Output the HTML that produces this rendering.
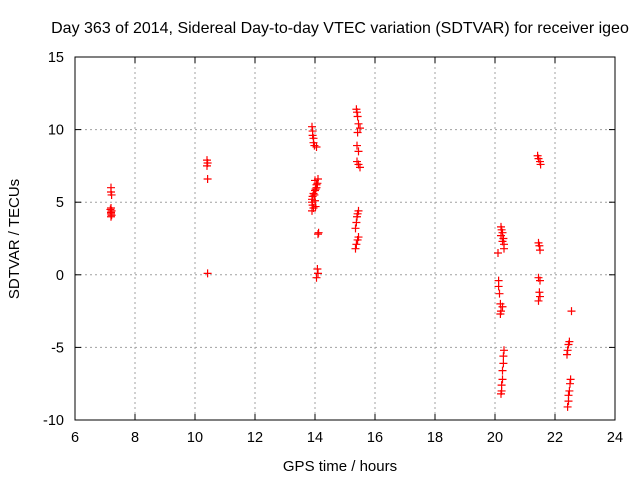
<!DOCTYPE html>
<html><head><meta charset="utf-8"><style>
body{margin:0;background:#fff}
svg{display:block;font-family:"Liberation Sans",sans-serif}
</style></head><body>
<svg id="c" width="640" height="480">
<text x="340" y="33" text-anchor="middle" font-size="16">Day 363 of 2014, Sidereal Day-to-day VTEC variation (SDTVAR) for receiver igeo</text>
<text x="340" y="471" text-anchor="middle" font-size="15">GPS time / hours</text>
<text transform="translate(19,239) rotate(-90)" text-anchor="middle" font-size="15">SDTVAR / TECUs</text>
<g id="grid"></g>
<g id="ticks"></g>
<g id="pts"></g>
<rect x="75" y="57" width="540" height="363" fill="none" stroke="#000"/>
</svg>
<script>
const xTicks=[6,8,10,12,14,16,18,20,22,24];
const yTicks=[-10,-5,0,5,10,15];
const hours=[7.2,7.2,7.22,7.2,7.18,7.22,7.2,7.2,7.22,7.2,
10.4,10.42,10.4,10.42,10.42,
13.9,13.92,13.92,13.95,13.95,13.98,14.05,14.1,14.08,14.05,14.0,13.95,13.92,13.9,13.9,13.92,13.95,13.9,14.0,14.05,14.02,13.98,14.0,14.02,14.12,14.1,14.08,14.1,14.05,
15.38,15.4,15.42,15.45,15.5,15.42,15.4,15.45,15.4,15.45,15.5,15.45,15.42,15.4,15.38,15.35,15.45,15.42,15.38,15.35,
20.2,20.22,20.25,20.2,20.28,20.25,20.3,20.3,20.1,20.12,20.12,20.15,20.18,20.25,20.2,20.18,20.3,20.28,20.28,20.25,20.25,20.22,20.22,20.2,
21.42,21.45,21.5,21.52,21.45,21.48,21.5,21.45,21.5,21.48,21.5,21.45,
22.55,22.48,22.45,22.42,22.4,22.52,22.5,22.48,22.45,22.45,22.42];
const values=[6.0,5.7,5.5,4.6,4.5,4.4,4.3,4.2,4.1,4.0,
7.9,7.7,7.5,6.6,0.1,
10.2,9.9,9.6,9.4,9.1,8.9,8.8,6.6,6.3,6.0,5.8,5.6,5.4,5.2,5.0,4.8,4.6,4.4,6.5,6.2,5.9,5.5,5.1,4.7,2.9,2.8,0.4,0.1,-0.2,
11.4,11.2,10.9,10.4,10.1,9.8,8.9,8.5,7.8,7.6,7.4,4.4,4.2,4.0,3.6,3.2,2.6,2.4,2.1,1.8,
3.3,3.1,2.9,2.7,2.5,2.3,2.1,1.8,1.5,-0.4,-0.8,-1.3,-2.0,-2.2,-2.5,-2.7,-5.2,-5.6,-6.1,-6.6,-7.2,-7.6,-8.0,-8.2,
8.2,8.0,7.8,7.6,2.2,2.0,1.7,-0.2,-0.4,-1.2,-1.5,-1.8,
-2.5,-4.6,-4.8,-5.2,-5.5,-7.2,-7.5,-8.0,-8.3,-8.7,-9.1];
const NS="http://www.w3.org/2000/svg";
const X=v=>75+(v-6)/18*540, Y=v=>420-(v+10)/25*363;
function mk(t,a,p){const e=document.createElementNS(NS,t);for(const k in a)e.setAttribute(k,a[k]);p.appendChild(e);return e;}
const g=document.getElementById('grid'),tk=document.getElementById('ticks'),pts=document.getElementById('pts');
xTicks.forEach(v=>{const x=X(v);
 if(v>6&&v<24){const l=mk('line',{x1:x,x2:x,y1:57,y2:420,stroke:'#a0a0a0','stroke-dasharray':'2,3'},g);}
 mk('line',{x1:x,x2:x,y1:420,y2:414,stroke:'#000'},tk);mk('line',{x1:x,x2:x,y1:57,y2:63,stroke:'#000'},tk);
 const t=mk('text',{x:x,y:442,'text-anchor':'middle','font-size':'14.5'},tk);t.textContent=v;
 });
yTicks.forEach(v=>{const y=Y(v);
 if(v>-10&&v<15){const l=mk('line',{x1:75,x2:615,y1:y,y2:y,stroke:'#a0a0a0','stroke-dasharray':'2,3'},g);}
 mk('line',{x1:75,x2:81,y1:y,y2:y,stroke:'#000'},tk);mk('line',{x1:615,x2:609,y1:y,y2:y,stroke:'#000'},tk);
 const t=mk('text',{x:64,y:y+5,'text-anchor':'end','font-size':'14.5'},tk);t.textContent=v;
 });
hours.forEach((h,i)=>{const x=X(h),y=Y(values[i]);
 const p=mk('path',{d:`M${x-4},${y}H${x+4}M${x},${y-4}V${y+4}`,stroke:'#f00','stroke-width':'1.2'},pts);
 });
</script>
</body></html>
